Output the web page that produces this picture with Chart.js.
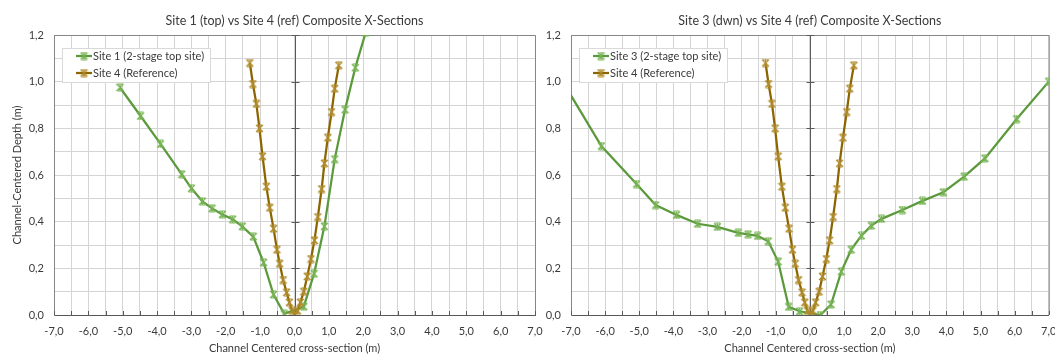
<!DOCTYPE html>
<html>
<head>
<meta charset="utf-8">
<script src="https://cdn.jsdelivr.net/npm/chart.js@4/dist/chart.umd.min.js"></script>
<style>
html, body { margin: 0; padding: 0; background: #fff; }
#wrap { position: relative; width: 1055px; height: 355px; overflow: hidden; }
.box { position: absolute; top: 0; height: 355px; }
#boxLeft { left: 0; width: 545px; }
#boxRight { left: 538px; width: 517px; }
</style>
</head>
<body>
<div id="wrap">
    <div class="box" id="boxLeft"><canvas id="chartLeft" width="545" height="355"></canvas></div>
    <div class="box" id="boxRight"><canvas id="chartRight" width="517" height="355"></canvas></div>
</div>
<script>
// Valores (x = posição centrada no canal, y = profundidade)
const site4X = [-1.30, -1.21, -1.11, -1.02, -0.93, -0.82, -0.72, -0.61, -0.51, -0.43, -0.33, -0.23, -0.15, -0.07, 0.00,
                0.09, 0.17, 0.27, 0.37, 0.48, 0.58, 0.68, 0.79, 0.87, 0.97, 1.08, 1.17, 1.29];
const site4Y = [1.08, 0.99, 0.905, 0.80, 0.68, 0.55, 0.46, 0.37, 0.28, 0.22, 0.15, 0.097, 0.054, 0.018, 0.003,
                0.018, 0.054, 0.10, 0.165, 0.24, 0.32, 0.42, 0.54, 0.65, 0.76, 0.87, 0.97, 1.07];

const site1X = [-5.08, -4.48, -3.90, -3.28, -3.00, -2.68, -2.40, -2.10, -1.80, -1.52, -1.20, -0.90, -0.61, -0.30,
                0.27, 0.57, 0.87, 1.17, 1.47, 1.77, 2.07];
const site1Y = [0.975, 0.853, 0.733, 0.603, 0.543, 0.487, 0.457, 0.431, 0.41, 0.38, 0.336, 0.225, 0.088, 0.005,
                0.036, 0.177, 0.38, 0.668, 0.88, 1.06, 1.21];

const site3X = [-7.10, -6.11, -5.08, -4.52, -3.91, -3.29, -2.71, -2.10, -1.81, -1.53, -1.22, -0.93, -0.62, -0.30,
                0.31, 0.62, 0.92, 1.21, 1.51, 1.80, 2.10, 2.71, 3.30, 3.91, 4.52, 5.13, 6.06, 7.00];
const site3Y = [0.965, 0.724, 0.561, 0.471, 0.429, 0.391, 0.378, 0.352, 0.346, 0.339, 0.316, 0.229, 0.035, 0.016,
                0.0, 0.045, 0.186, 0.28, 0.34, 0.383, 0.412, 0.45, 0.489, 0.526, 0.593, 0.671, 0.84, 1.0];

const xMin = -7, xMax = 7, yMin = 0, yMax = 1.2;

const FONT = 'Lato, "Open Sans", sans-serif';
const TEXT = '#3a3a3a';
const GREEN = '#5b9a3c';
const BROWN = '#8c6400';

function toPoints(xs, ys) {
    return xs.map((x, i) => ({ x: x, y: ys[i] }));
}

function fmt(v) {
    if (Math.abs(v) < 1e-9) v = 0;
    return v.toFixed(1).replace('.', ',');
}

// marcador "estrela" do Excel: X com traço vertical
function makeMarker(color) {
    const c = document.createElement('canvas');
    c.width = 9; c.height = 9;
    const g = c.getContext('2d');
    g.strokeStyle = color;
    g.lineWidth = 1.2;
    g.beginPath();
    g.moveTo(1, 1); g.lineTo(8, 8);
    g.moveTo(8, 1); g.lineTo(1, 8);
    g.moveTo(4.5, 0.5); g.lineTo(4.5, 8.5);
    g.moveTo(2, 1); g.lineTo(7, 1);
    g.moveTo(2, 8); g.lineTo(7, 8);
    g.stroke();
    return c;
}

function dataset(label, xs, ys, color, markerColor, order) {
    return {
        label: label,
        data: toPoints(xs, ys),
        showLine: true,
        borderColor: color,
        backgroundColor: color,
        borderWidth: 2.25,
        pointStyle: makeMarker(markerColor),
        pointRadius: 4,
        tension: 0,
        clip: 0,
        order: order
    };
}

// eixos no estilo Excel: borda, eixo vertical em x=0, marcas de escala, legenda com caixa
const excelDecor = {
    id: 'excelDecor',
    beforeDatasetsDraw(chart) {
        const ctx = chart.ctx;
        const a = chart.chartArea;
        const xs = chart.scales.x, ys = chart.scales.y;
        ctx.save();
        ctx.lineWidth = 1;
        ctx.strokeStyle = '#868686';
        ctx.beginPath();
        ctx.moveTo(a.left, a.top + 0.5); ctx.lineTo(a.right + 0.5, a.top + 0.5);
        ctx.lineTo(a.right + 0.5, a.bottom);
        ctx.stroke();

        ctx.strokeStyle = '#595959';
        const x0 = Math.round(xs.getPixelForValue(0)) + 0.5;
        ctx.beginPath();
        ctx.moveTo(x0, a.top); ctx.lineTo(x0, a.bottom);
        for (let v = 0.2; v <= yMax + 1e-9; v += 0.2) {
            const py = Math.round(ys.getPixelForValue(v)) + 0.5;
            ctx.moveTo(x0 - 4, py); ctx.lineTo(x0 + 4, py);
        }
        const yb = Math.round(ys.getPixelForValue(0));
        for (let v = xMin; v <= xMax + 1e-9; v += 0.5) {
            const px = Math.round(xs.getPixelForValue(v)) + 0.5;
            ctx.moveTo(px, yb - 4); ctx.lineTo(px, yb);
        }
        ctx.stroke();
        ctx.restore();
    },
    afterDatasetsDraw(chart) {
        const ctx = chart.ctx;
        const a = chart.chartArea;
        ctx.save();
        ctx.font = '11px ' + FONT;
        const widths = chart.data.datasets.map(ds => ctx.measureText(ds.label).width);
        const bx = Math.round(a.left + 8), by = Math.round(a.top + 13);
        const bw = Math.round(31 + Math.max(...widths) + 6), bh = 34;
        ctx.fillStyle = '#ffffff';
        ctx.fillRect(bx, by, bw, bh);
        ctx.strokeStyle = '#d9d9d9';
        ctx.lineWidth = 1;
        ctx.strokeRect(bx + 0.5, by + 0.5, bw, bh);
        chart.data.datasets.forEach((ds, i) => {
            const y = by + 8 + i * 17;
            ctx.strokeStyle = ds.borderColor;
            ctx.lineWidth = 2.25;
            ctx.beginPath();
            ctx.moveTo(bx + 14, y); ctx.lineTo(bx + 30, y);
            ctx.stroke();
            const m = ds.pointStyle;
            ctx.drawImage(m, bx + 22 - m.width / 2, y - m.height / 2);
            ctx.fillStyle = TEXT;
            ctx.textBaseline = 'middle';
            ctx.textAlign = 'left';
            ctx.fillText(ds.label, bx + 31, y + 0.5);
        });
        ctx.restore();
    }
};

function buildOptions(titleText, showYTitle, yWidth, padRight) {
    return {
        responsive: false,
        animation: false,
        events: [],
        layout: { padding: { left: 0, right: padRight, top: 0, bottom: 0 } },
        plugins: {
            legend: { display: false },
            tooltip: { enabled: false },
            title: {
                display: true,
                text: titleText,
                fullSize: false,
                color: TEXT,
                font: { family: FONT, size: 12.5, weight: 'normal' },
                padding: { top: 13, bottom: 7 }
            }
        },
        scales: {
            x: {
                type: 'linear',
                min: xMin,
                max: xMax,
                ticks: {
                    stepSize: 0.5,
                    autoSkip: false,
                    maxRotation: 0,
                    color: TEXT,
                    padding: 10,
                    font: { family: FONT, size: 11 },
                    callback: v => Number.isInteger(v) ? fmt(v) : ''
                },
                grid: { color: '#d4d4d4', drawTicks: false },
                border: { color: '#595959', width: 1 },
                title: {
                    display: true,
                    text: 'Channel Centered cross-section (m)',
                    color: TEXT,
                    font: { family: FONT, size: 11 },
                    padding: { top: 0, bottom: 0 }
                },
                afterFit: s => { s.height = 40; s.paddingLeft = 0; s.paddingRight = 0; }
            },
            y: {
                type: 'linear',
                min: yMin,
                max: yMax,
                ticks: {
                    stepSize: 0.1,
                    autoSkip: false,
                    color: TEXT,
                    padding: 10,
                    font: { family: FONT, size: 11 },
                    callback: v => Math.round(v * 10) % 2 === 0 ? fmt(v) : ''
                },
                grid: { color: '#d4d4d4', drawTicks: false },
                border: { color: '#868686', width: 1 },
                title: {
                    display: showYTitle,
                    text: 'Channel-Centered Depth (m)',
                    color: TEXT,
                    font: { family: FONT, size: 11 },
                    padding: { top: 11, bottom: 0 }
                },
                afterFit: s => { s.width = yWidth; s.paddingTop = 0; s.paddingBottom = 0; }
            }
        }
    };
}

new Chart(document.getElementById('chartLeft'), {
    type: 'scatter',
    data: {
        datasets: [
            dataset('Site 1 (2-stage top site)', site1X, site1Y, GREEN, '#78b455', 2),
            dataset('Site 4 (Reference)', site4X, site4Y, BROWN, '#b08c2c', 1)
        ]
    },
    options: buildOptions('Site 1 (top) vs Site 4 (ref) Composite X-Sections', true, 54, 10),
    plugins: [excelDecor]
});

new Chart(document.getElementById('chartRight'), {
    type: 'scatter',
    data: {
        datasets: [
            dataset('Site 3 (2-stage top site)', site3X, site3Y, GREEN, '#78b455', 2),
            dataset('Site 4 (Reference)', site4X, site4Y, BROWN, '#b08c2c', 1)
        ]
    },
    options: buildOptions('Site 3 (dwn) vs Site 4 (ref) Composite X-Sections', false, 33, 3),
    plugins: [excelDecor]
});
</script>
</body>
</html>
